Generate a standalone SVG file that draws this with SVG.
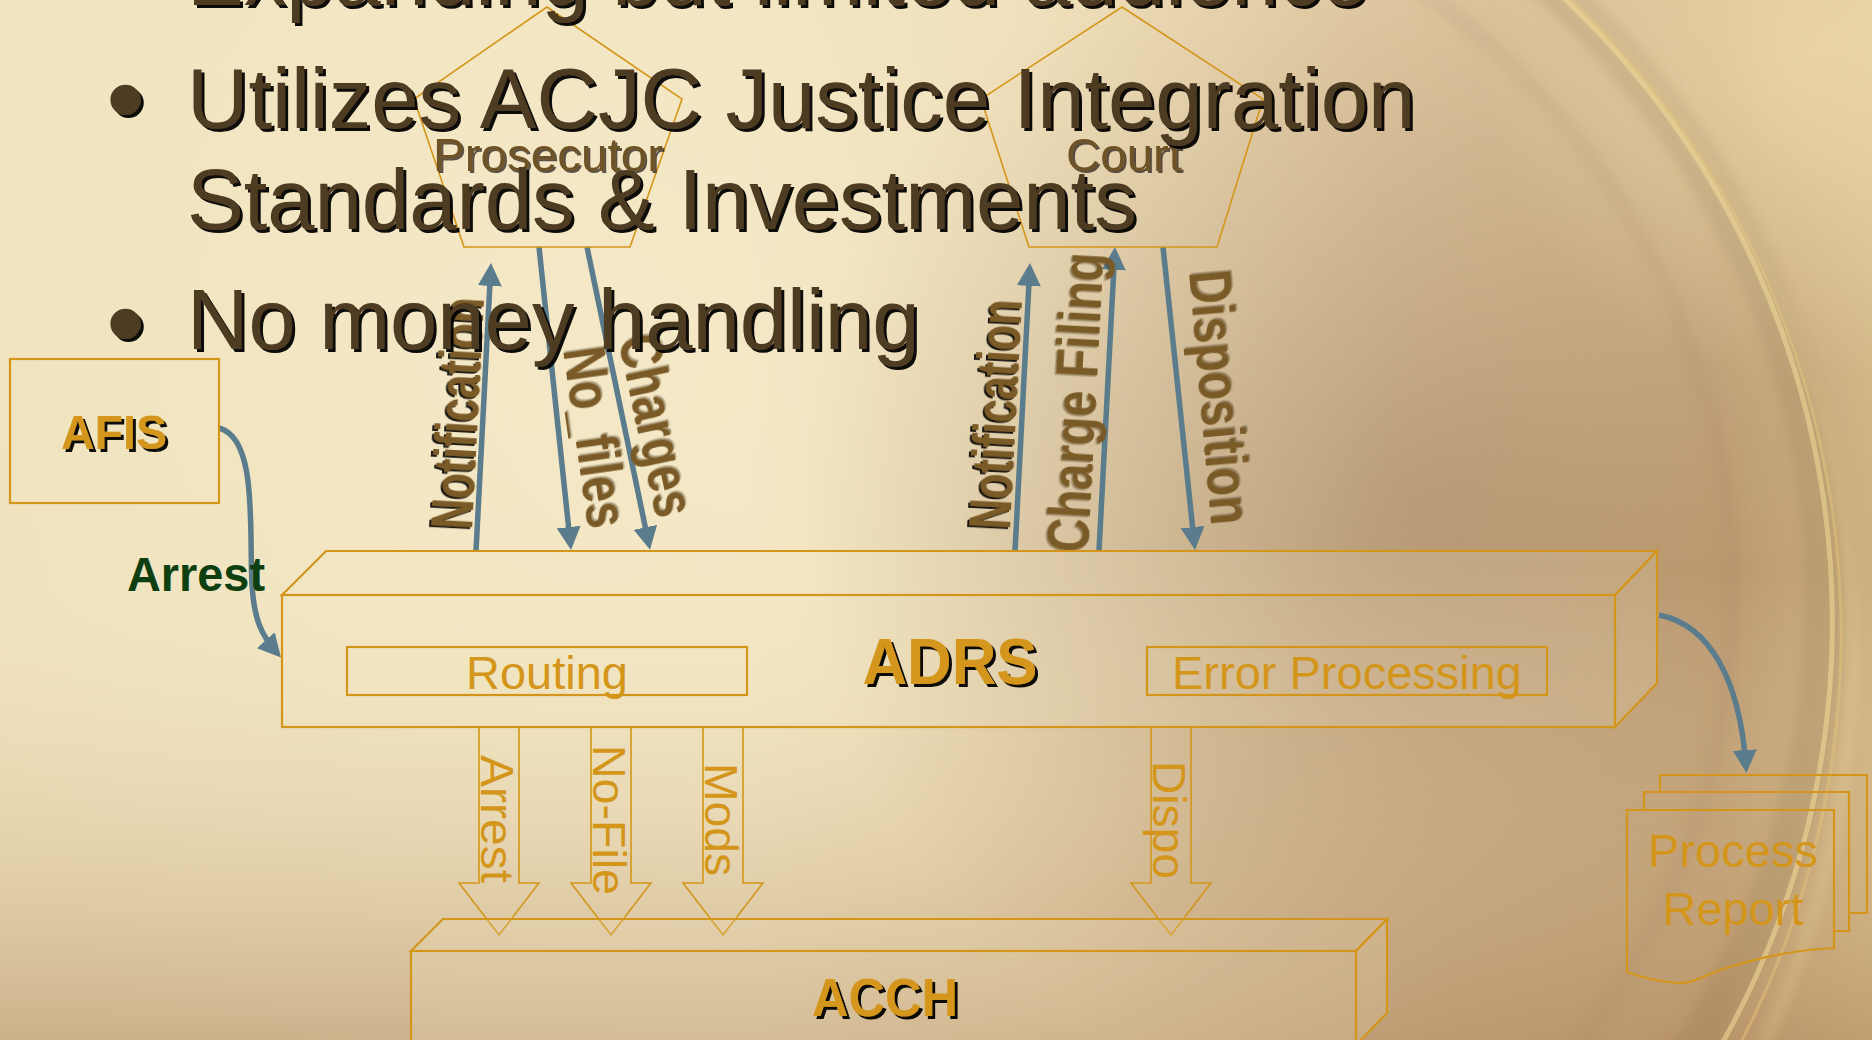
<svg xmlns="http://www.w3.org/2000/svg" width="1872" height="1040" viewBox="0 0 1872 1040">
<defs>
  <linearGradient id="bgH" x1="0" y1="0" x2="1" y2="0">
    <stop offset="0" stop-color="#EFE1BB"/>
    <stop offset="0.4" stop-color="#F2E4BF"/>
    <stop offset="0.58" stop-color="#EAD5AC"/>
    <stop offset="0.78" stop-color="#D6B78C"/>
    <stop offset="0.92" stop-color="#CBA87A"/>
    <stop offset="1" stop-color="#D8BB86"/>
  </linearGradient>
  <linearGradient id="bgV" x1="0" y1="0" x2="0" y2="1">
    <stop offset="0" stop-color="#F3E7C4" stop-opacity="0.35"/>
    <stop offset="0.55" stop-color="#F3E7C4" stop-opacity="0"/>
    <stop offset="1" stop-color="#A8825A" stop-opacity="0.5"/>
  </linearGradient>
  <radialGradient id="bgDark" cx="1420" cy="500" r="620" gradientUnits="userSpaceOnUse">
    <stop offset="0" stop-color="#86684E" stop-opacity="0.42"/>
    <stop offset="0.6" stop-color="#86684E" stop-opacity="0.2"/>
    <stop offset="1" stop-color="#86684E" stop-opacity="0"/>
  </radialGradient>
  <radialGradient id="bgLight" cx="600" cy="350" r="800" gradientUnits="userSpaceOnUse">
    <stop offset="0" stop-color="#F5EACB" stop-opacity="0.7"/>
    <stop offset="1" stop-color="#F5EACB" stop-opacity="0"/>
  </radialGradient>
  <radialGradient id="bgCorner" cx="1800" cy="60" r="320" gradientUnits="userSpaceOnUse">
    <stop offset="0" stop-color="#F2DFB0" stop-opacity="0.6"/>
    <stop offset="1" stop-color="#F2DFB0" stop-opacity="0"/>
  </radialGradient>
  <filter id="sh" x="-10%" y="-10%" width="130%" height="140%">
    <feDropShadow dx="3" dy="3" stdDeviation="0.4" flood-color="#000" flood-opacity="0.95"/>
  </filter>
  <filter id="shS" x="-10%" y="-10%" width="130%" height="140%">
    <feDropShadow dx="2" dy="2" stdDeviation="0.4" flood-color="#1E1408" flood-opacity="0.7"/>
  </filter>
  <filter id="shUp" x="-20%" y="-30%" width="140%" height="160%">
    <feDropShadow dx="-2" dy="-2" stdDeviation="0.4" flood-color="#000" flood-opacity="0.9"/>
  </filter>
  <filter id="shFaint" x="-20%" y="-30%" width="140%" height="160%">
    <feDropShadow dx="-1.5" dy="-1.5" stdDeviation="0.5" flood-color="#2A1C08" flood-opacity="0.4"/>
  </filter>
  <filter id="blur6"><feGaussianBlur stdDeviation="6"/></filter>
  <marker id="ah" viewBox="0 0 23 24" refX="17" refY="12" markerWidth="23" markerHeight="24" markerUnits="userSpaceOnUse" orient="auto">
    <path d="M0,0 L23,12 L0,24 Z" fill="#5B7C8C"/>
  </marker>
  <style>
    .ln { fill: none; stroke: #D4961A; stroke-width: 2.2; }
    .lt { fill: none; stroke: #D4961A; stroke-width: 1.6; }
    .box { fill: #F4E8C6; fill-opacity: 0.18; stroke: #D4961A; stroke-width: 2.2; }
    .conn { fill: none; stroke: #5B7C8C; stroke-width: 5.5; marker-end: url(#ah); }
    .blk { fill: none; stroke: #D4961A; stroke-width: 1.6; stroke-linejoin: miter; }
    .arc { fill: none; }
    .main { font-family: "Liberation Sans", Arial, sans-serif; font-size: 85px; fill: #4E3A22; filter: url(#sh); }
    .bul { font-family: "Liberation Sans", Arial, sans-serif; font-size: 112px; fill: #4E3A22; filter: url(#sh); }
    .sub { font-family: "Liberation Sans", Arial, sans-serif; font-size: 47px; fill: #D4961A; text-anchor: middle; }
    .ttl { font-family: "Liberation Sans", Arial, sans-serif; font-weight: bold; fill: #D4961A; text-anchor: middle; filter: url(#sh); }
    .blab { font-family: "Liberation Sans", Arial, sans-serif; font-size: 46px; fill: #D4961A; }
    .plab { font-family: "Liberation Sans", Arial, sans-serif; font-size: 47px; fill: #6E5326; text-anchor: middle; filter: url(#shS); }
    .clab { font-family: "Liberation Sans", Arial, sans-serif; font-size: 60px; font-weight: bold; fill: #7A5A26; }
  </style>
</defs>

<!-- background -->
<rect x="0" y="0" width="1872" height="1040" fill="url(#bgH)"/>
<rect x="0" y="0" width="1872" height="1040" fill="url(#bgLight)"/>
<rect x="0" y="0" width="1872" height="1040" fill="url(#bgDark)"/>
<rect x="0" y="0" width="1872" height="1040" fill="url(#bgV)"/>
<rect x="0" y="0" width="1872" height="1040" fill="url(#bgCorner)"/>
<path class="arc" d="M1282,-175 A825,825 0 0 1 1530,1232" stroke="#7E5E3C" stroke-width="40" stroke-opacity="0.16" filter="url(#blur6)"/>
<path class="arc" d="M1330,-160 A860,860 0 0 1 1560,1250" stroke="#F2DC98" stroke-width="5" stroke-opacity="0.55"/>
<path class="arc" d="M1360,-150 A880,880 0 0 1 1580,1260" stroke="#E6C27A" stroke-width="3" stroke-opacity="0.5"/>
<path class="arc" d="M1400,-130 A905,905 0 0 1 1600,1280" stroke="#F0D99A" stroke-width="8" stroke-opacity="0.35" filter="url(#blur6)"/>
<path class="arc" d="M1250,-100 A740,740 0 0 1 1480,1150" stroke="#A07A52" stroke-width="18" stroke-opacity="0.12" filter="url(#blur6)"/>

<!-- connectors -->
<g id="connectors">
  <path class="conn" d="M476,551 L490.7,269"/>
  <path class="conn" d="M539,247 L570.4,544"/>
  <path class="conn" d="M587,247 L648.8,544"/>
  <path class="conn" d="M1015,551 L1029.7,269"/>
  <path class="conn" d="M1099,551 L1114.7,253"/>
  <path class="conn" d="M1163,247 L1194.4,544"/>
  <path class="conn" d="M219,428 C258,438 249,530 252,585 C254,620 262,636 277,653"/>
  <path class="conn" d="M1659,615 C1710,625 1740,680 1746,767"/>

  <polygon class="blk" points="479,727 519,727 519,883 539,883 499,935 459,883 479,883"/>
  <polygon class="blk" points="591,727 631,727 631,883 651,883 611,935 571,883 591,883"/>
  <polygon class="blk" points="703,727 743,727 743,883 763,883 723,935 683,883 703,883"/>
  <polygon class="blk" points="1151,727 1191,727 1191,883 1211,883 1171,935 1131,883 1151,883"/>

  <text class="blab" transform="translate(481,755) rotate(90)" textLength="128" lengthAdjust="spacingAndGlyphs">Arrest</text>
  <text class="blab" transform="translate(593,745) rotate(90)" textLength="150" lengthAdjust="spacingAndGlyphs">No-File</text>
  <text class="blab" transform="translate(705,763) rotate(90)" textLength="113" lengthAdjust="spacingAndGlyphs">Mods</text>
  <text class="blab" transform="translate(1153,761) rotate(90)" textLength="118" lengthAdjust="spacingAndGlyphs">Dispo</text>

  <text class="clab" style="filter:url(#shUp)" transform="translate(472,530) rotate(-87)" textLength="232" lengthAdjust="spacingAndGlyphs">Notification</text>
  <text class="clab" style="filter:url(#shFaint)" transform="translate(563,350) rotate(82)" textLength="182" lengthAdjust="spacingAndGlyphs">No_files</text>
  <text class="clab" style="filter:url(#shFaint)" transform="translate(618,339) rotate(78)" textLength="185" lengthAdjust="spacingAndGlyphs">Charges</text>
  <text class="clab" style="filter:url(#shUp)" transform="translate(1010,530) rotate(-87)" textLength="230" lengthAdjust="spacingAndGlyphs">Notification</text>
  <text class="clab" style="filter:url(#shFaint)" transform="translate(1088,553) rotate(-87)" textLength="300" lengthAdjust="spacingAndGlyphs">Charge Filing</text>
  <text class="clab" style="filter:url(#shFaint)" transform="translate(1189,272) rotate(85)" textLength="255" lengthAdjust="spacingAndGlyphs">Disposition</text>

  <text x="127" y="591" font-family="'Liberation Sans', Arial, sans-serif" font-size="48" font-weight="bold" fill="#0D3F10" textLength="138" lengthAdjust="spacingAndGlyphs">Arrest</text>
</g>

<!-- nodes -->
<g id="prosecutor">
  <polygon class="lt" points="547,7 682,99 630,247 464,247 414,99"/>
  <text class="plab" x="548" y="171" textLength="230" lengthAdjust="spacingAndGlyphs">Prosecutor</text>
</g>
<g id="court">
  <polygon class="lt" points="1122,7 1263,99 1217,247 1029,247 981,99"/>
  <text class="plab" x="1124" y="171" textLength="116" lengthAdjust="spacingAndGlyphs">Court</text>
</g>
<g id="afis">
  <rect class="box" x="10" y="359" width="209" height="144"/>
  <text class="ttl" x="114" y="449" font-size="48" textLength="106" lengthAdjust="spacingAndGlyphs">AFIS</text>
</g>
<g id="adrs">
  <polygon class="box" points="282,595 326,551 1657,551 1615,595"/>
  <polygon class="box" points="1615,595 1657,551 1657,683 1615,727"/>
  <rect class="box" x="282" y="595" width="1333" height="132"/>
  <rect class="ln" x="347" y="647" width="400" height="48"/>
  <text class="sub" x="547" y="689">Routing</text>
  <rect class="ln" x="1147" y="647" width="400" height="48"/>
  <text class="sub" x="1347" y="689">Error Processing</text>
  <text class="ttl" x="950" y="684" font-size="65" textLength="175" lengthAdjust="spacingAndGlyphs">ADRS</text>
</g>
<g id="acch">
  <polygon class="box" points="411,951 443,919 1387,919 1356,951"/>
  <polygon class="box" points="1356,951 1387,919 1387,1013 1356,1045"/>
  <rect class="box" x="411" y="951" width="945" height="100"/>
  <text class="ttl" x="885" y="1016" font-size="54" textLength="146" lengthAdjust="spacingAndGlyphs">ACCH</text>
</g>
<g id="process-report">
  <polyline class="ln" points="1660,792 1660,775 1867,775 1867,913 1849,913"/>
  <polyline class="ln" points="1644,810 1644,792 1849,792 1849,931 1834,931"/>
  <path class="ln" d="M1627,810 L1834,810 L1834,948 C1790,950 1750,960 1720,970 C1700,978 1690,984 1677,983 C1655,981 1640,977 1627,972 Z"/>
  <text class="sub" x="1733" y="867">Process</text>
  <text class="sub" x="1733" y="925">Report</text>
</g>

<!-- slide text -->
<g id="slide-text">
  <text class="main" x="187" y="5">Expanding but limited audience</text>
  <text class="bul" x="106" y="137">•</text>
  <text class="main" x="187" y="128">Utilizes ACJC Justice Integration</text>
  <text class="main" x="187" y="229">Standards &amp; Investments</text>
  <text class="bul" x="106" y="361">•</text>
  <text class="main" x="187" y="349">No money handling</text>
</g>
</svg>
